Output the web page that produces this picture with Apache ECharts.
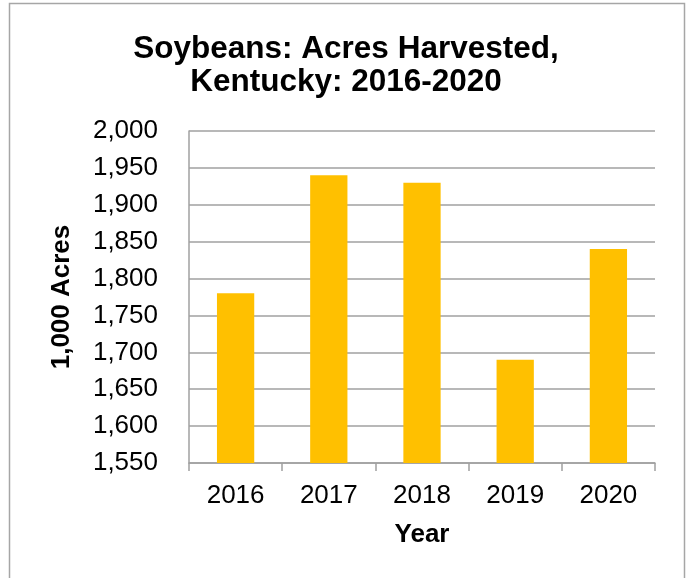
<!DOCTYPE html>
<html>
<head>
<meta charset="utf-8">
<script src="https://cdn.jsdelivr.net/npm/echarts@6/dist/echarts.min.js"></script>
<style>
html,body{margin:0;padding:0;background:#fff;}
#c{width:692px;height:578px;}
</style>
</head>
<body>
<div id="c"></div>
<script>
var categories = ['2016', '2017', '2018', '2019', '2020'];
var acres = [1780, 1940, 1930, 1690, 1840];
var yMin = 1550, yMax = 2000, yStep = 50;

var chart = echarts.init(document.getElementById('c'), null, {renderer: 'canvas'});
var font = 'Liberation Sans, Arial, sans-serif';
chart.setOption({
  animation: false,
  backgroundColor: '#ffffff',
  title: {
    text: 'Soybeans: Acres Harvested,\nKentucky: 2016-2020',
    left: 'center',
    top: 28,
    textStyle: {fontFamily: font, fontWeight: 'bold', fontSize: 31.5, lineHeight: 33, color: '#000'}
  },
  graphic: [{
    type: 'rect',
    shape: {x: 9.5, y: 3.5, width: 675, height: 620},
    style: {fill: 'none', stroke: '#a6a6a6', lineWidth: 1.5},
    silent: true
  }],
  grid: {left: 189, right: 37, top: 131, bottom: 115, containLabel: false},
  xAxis: {
    type: 'category',
    data: categories,
    name: 'Year',
    nameLocation: 'middle',
    nameGap: 59,
    nameTextStyle: {fontFamily: font, fontWeight: 'bold', fontSize: 26, color: '#000'},
    axisLine: {lineStyle: {color: '#a0a0a0', width: 1.5}},
    axisTick: {show: true, length: 8, lineStyle: {color: '#a0a0a0', width: 1.5}},
    axisLabel: {fontFamily: font, fontSize: 26, color: '#000', margin: 20}
  },
  yAxis: {
    type: 'value',
    min: yMin, max: yMax, interval: yStep,
    name: '1,000 Acres',
    nameLocation: 'middle',
    nameGap: 114,
    nameTextStyle: {fontFamily: font, fontWeight: 'bold', fontSize: 26, color: '#000'},
    axisLine: {show: true, lineStyle: {color: '#a0a0a0', width: 1.5}},
    axisTick: {show: false},
    splitLine: {lineStyle: {color: '#a0a0a0', width: 1.5}},
    axisLabel: {
      fontFamily: font, fontSize: 26, color: '#000', margin: 31,
      formatter: function (v) { return v.toLocaleString('en-US'); }
    }
  },
  series: [{
    type: 'bar',
    data: acres,
    barWidth: '40%',
    itemStyle: {color: '#ffc000'}
  }]
});
</script>
</body>
</html>
